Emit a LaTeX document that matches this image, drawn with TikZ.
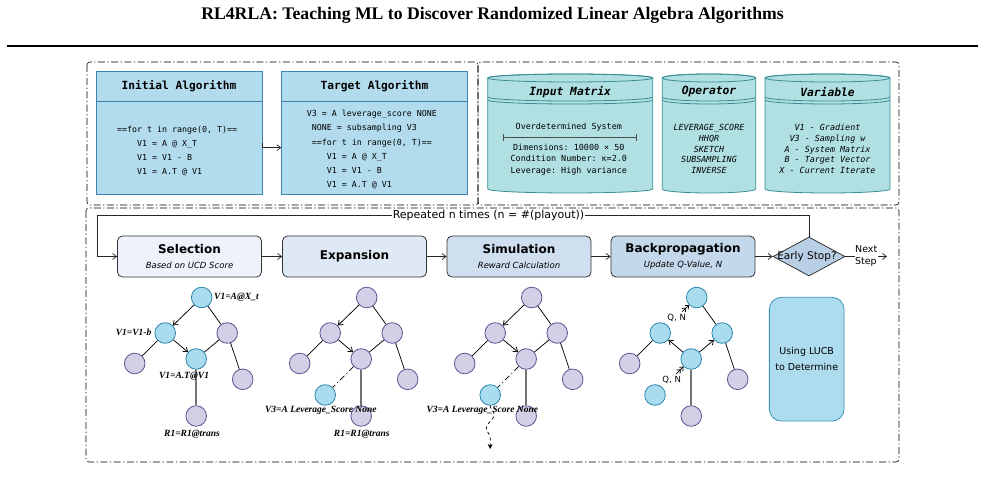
\documentclass[tikz,border=0pt]{standalone}
\usepackage{fontspec}
\setmainfont{Liberation Serif}
\setsansfont{DejaVu Sans}
\setmonofont{DejaVu Sans Mono}
\usetikzlibrary{arrows.meta, shapes.geometric, calc, decorations.pathmorphing}
\definecolor{algfill}{HTML}{B2DCEE}
\definecolor{algline}{HTML}{3D83B2}
\definecolor{cylfill}{HTML}{B1E0E3}
\definecolor{cylline}{HTML}{3A8D93}
\definecolor{selfill}{HTML}{EEF3FB}
\definecolor{expfill}{HTML}{DFE9F5}
\definecolor{simfill}{HTML}{CFDFF0}
\definecolor{bakfill}{HTML}{C4D8EC}
\definecolor{stopfill}{HTML}{B9CFE6}
\definecolor{stageline}{HTML}{333333}
\definecolor{lavfill}{HTML}{D3CFE6}
\definecolor{lavline}{HTML}{5B5590}
\definecolor{bluefill}{HTML}{A9DCEF}
\definecolor{blueline}{HTML}{2C86AD}
\definecolor{lucbfill}{HTML}{AEDCEF}
\definecolor{lucbline}{HTML}{3B93BB}
\newcommand{\tsz}[2]{\fontsize{#1}{#2}\selectfont}
\tikzset{
  frame/.style={line width=0.6pt, rounded corners=3pt,
    dash pattern=on 7pt off 2.5pt on 1.2pt off 2.5pt},
  algbox/.style={draw=algline, fill=algfill, line width=0.8pt, inner sep=0,
    minimum height=123.3pt},
  algtitle/.style={font=\ttfamily\bfseries\tsz{11.2}{13}},
  algcode/.style={font=\ttfamily\tsz{8.3}{14.2}, align=left, inner sep=0, anchor=west},
  cyltitle/.style={font=\ttfamily\bfseries\itshape\tsz{11.3}{13}},
  cylbody/.style={font=\ttfamily\tsz{8.4}{11.2}, align=center, inner sep=0},
  cyllist/.style={cylbody, font=\ttfamily\itshape\tsz{8.4}{10.85}},
  stage/.style={draw=stageline, line width=0.8pt, rounded corners=5pt,
    minimum width=144pt, minimum height=41pt, align=center, inner sep=0,
    font=\sffamily\tsz{8.5}{14.4}},
  flow/.style={->, line width=0.7pt, draw=black!85},
  lavnode/.style={circle, draw=lavline, fill=lavfill, line width=0.8pt,
    minimum size=20.6pt, inner sep=0},
  bluenode/.style={lavnode, draw=blueline, fill=bluefill},
  tedge/.style={line width=0.75pt},
  leaf/.style={line width=1.6pt, draw=black!55},
  tlab/.style={font=\bfseries\itshape\tsz{9.5}{11}, inner sep=0},
  qn/.style={font=\sffamily\tsz{8.5}{10}, inner sep=0},
  bp/.style={-{Straight Barb[length=3pt,width=5pt]Straight Barb[length=3pt,width=5pt]},
    line width=0.75pt},
}
% cylinder: left x, right x, name
\newcommand{\wcyl}[3]{%
  \pgfmathsetmacro{\cylrx}{(#2-#1)/2}
  \draw[draw=cylline, fill=cylfill, line width=0.8pt] (#1,78) -- (#1,189)
    arc[start angle=180, end angle=360, x radius=\cylrx pt, y radius=4pt] -- (#2,78)
    arc[start angle=0, end angle=180, x radius=\cylrx pt, y radius=4pt] -- cycle;
  \draw[draw=cylline, line width=0.8pt] ({(#1+#2)/2},78)
    ellipse [x radius=\cylrx pt, y radius=4pt];
  \foreach \cy in {97,100}{
    \draw[draw=cylline, line width=0.8pt] (#1,\cy)
      arc[start angle=180, end angle=360, x radius=\cylrx pt, y radius=4pt];}
  \coordinate (#3) at ({(#1+#2)/2},78);}
% search tree: root x, tag, styles of a, b, c, e
\newcommand{\mtree}[6]{%
  \node[#3] (#2a) at (#1,297.5) {};
  \node[#4] (#2b) at ({#1-36.5},333) {};
  \node[#5] (#2c) at ({#1+25.5},333) {};
  \node[lavnode] (#2d) at ({#1-67},363.5) {};
  \node[#6] (#2e) at ({#1-5.5},359) {};
  \node[lavnode] (#2f) at ({#1+41},379.3) {};
  \node[lavnode] (#2g) at ({#1-5.5},416) {};}

\begin{document}
\begin{tikzpicture}[x=1pt, y=-1pt, >={Straight Barb[length=4pt,width=6pt]}]
\useasboundingbox (0,0) rectangle (985,494);
% header
\node[font=\bfseries\tsz{17.7}{20}, anchor=base] (title) at (492.5,19.5)
  {RL4RLA: Teaching ML to Discover Randomized Linear Algebra Algorithms};
\draw[line width=2pt] (7,46.5) -- (978,46.5);
% frames
\draw[frame] (87,62) rectangle (478,205);
\draw[frame] (478,62) rectangle (899,205);
\draw[frame] (86,208) rectangle (899,462);
% algorithms
\node[algbox, minimum width=166pt] (init) at (179,132.7) {};
\node[algbox, minimum width=185.6pt] (target) at (374.5,132.7) {};
\draw[draw=algline, line width=0.8pt] ([yshift=-30.7pt]init.north west) -- ([yshift=-30.7pt]init.north east);
\draw[draw=algline, line width=0.8pt] ([yshift=-30.7pt]target.north west) -- ([yshift=-30.7pt]target.north east);
\node[algtitle] (inithead) at (179,86.3) {Initial Algorithm};
\node[algtitle] (targethead) at (374.5,86.3) {Target Algorithm};
\node[algcode] (initcode) at (117,150.8) {==for t in range(0, T)==\\
  \hphantom{xxxx}V1 = A @ X\_T\\\hphantom{xxxx}V1 = V1 - B\\\hphantom{xxxx}V1 = A.T @ V1};
\node[algcode] (targetcode) at (306.7,149.6) {V3 = A leverage\_score NONE\\
  \hphantom{x}NONE = subsampling V3\\\hphantom{x}==for t in range(0, T)==\\
  \hphantom{xxxx}V1 = A @ X\_T\\\hphantom{xxxx}V1 = V1 - B\\\hphantom{xxxx}V1 = A.T @ V1};
\draw[flow] ([yshift=-10pt]init.east) |- ([yshift=-15pt]target.west);
% cylinders
\wcyl{487.7}{652.7}{inmat}
\wcyl{662.3}{755.7}{oper}
\wcyl{765}{890}{vars}
\node[cyltitle] (inmathead) at (570.2,91.7) {Input Matrix};
\node[cyltitle] (operhead) at (709,91.7) {Operator};
\node[cyltitle] (varshead) at (827.5,91.7) {Variable};
\node[cylbody] (inmatsys) at (568.8,127.3) {Overdetermined System};
\coordinate (diml) at (503.3,137.3);
\coordinate (dimr) at (636,137.3);
\draw[{Bar[width=7pt]}-{Bar[width=7pt]}, line width=0.5pt, draw=black!70] (diml) -- (dimr);
\node[cylbody] (inmatdata) at (568.8,159.7)
  {Dimensions: 10000 × 50\\Condition Number: κ=2.0\\Leverage: High variance};
\node[cyllist] (operlist) at (709,149) {LEVERAGE\_SCORE\\HHQR\\SKETCH\\SUBSAMPLING\\INVERSE};
\node[cyllist] (varslist) at (827.5,149)
  {V1 - Gradient\\V3 - Sampling w\\A - System Matrix\\B - Target Vector\\X - Current Iterate};
% stages
\node[stage, fill=selfill] (sel) at (189.5,256.5)
  {{\tsz{12}{14.4}\bfseries Selection}\\{\itshape Based on UCD Score}};
\node[stage, fill=expfill] (exp) at (354.5,256.5) {{\tsz{12}{14.4}\bfseries Expansion}};
\node[stage, fill=simfill] (sim) at (519,256.5)
  {{\tsz{12}{14.4}\bfseries Simulation}\\{\itshape Reward Calculation}};
\node[stage, fill=bakfill] (bak) at (683,256.5)
  {{\tsz{12}{14.4}\bfseries Backpropagation}\\{\itshape Update Q-Value, N}};
\node[diamond, draw=stageline, fill=stopfill, line width=0.8pt, minimum width=72pt,
  minimum height=39pt, inner sep=0] (stop) at (809,256.5) {};
\node[font=\sffamily\tsz{10.5}{12}, inner sep=0] (stoptxt) at (807,257) {Early Stop?};
\draw[flow] (sel) -- (exp);
\draw[flow] (exp) -- (sim);
\draw[flow] (sim) -- (bak);
\draw[flow] (bak) -- (stop);
\coordinate (loopl) at (97,215);
\draw[flow] (stop.north) |- (loopl) |- (sel.west);
\node[font=\sffamily\tsz{11}{13}, fill=white, inner sep=1pt] (rep) at (488.5,215.5)
  {Repeated n times (n = \#(playout))};
\coordinate (nextend) at (887,256.5);
\draw[flow] (stop.east) -- (nextend) node[midway, fill=white, inner sep=0.5pt,
  align=left, font=\sffamily\tsz{9.5}{12}] (nxt) {Next\\Step};
% selection tree
\mtree{201.7}{t1}{bluenode}{bluenode}{lavnode}{bluenode}
\draw[tedge, ->] (t1a) -- (t1b);
\draw[tedge, ->] (t1b) -- (t1e);
\draw[tedge] (t1a) -- (t1c) (t1b) -- (t1d) (t1c) -- (t1e) (t1c) -- (t1f);
\draw[leaf] (t1e) -- (t1g);
\node[tlab, anchor=west] (t1la) at (214,297.5) {V1=A@X\_t};
\node[tlab, anchor=east] (t1lb) at (151.5,332.5) {V1=V1-b};
\node[tlab] (t1le) at (184,376) {V1=A.T@V1};
\node[tlab] (t1lg) at (192,434) {R1=R1@trans};
% expansion tree
\mtree{366.7}{t2}{lavnode}{lavnode}{lavnode}{lavnode}
\node[bluenode] (t2n) at (325.2,395) {};
\draw[tedge, ->] (t2a) -- (t2b);
\draw[tedge, ->] (t2b) -- (t2e);
\draw[tedge] (t2a) -- (t2c) (t2b) -- (t2d) (t2c) -- (t2e) (t2c) -- (t2f);
\draw[leaf] (t2e) -- (t2g);
\draw[tedge, dash pattern=on 6pt off 3pt on 1pt off 3pt] (t2e) -- (t2n);
\node[tlab] (t2ln) at (320.8,410) {V3=A Leverage\_Score None};
\node[tlab] (t2lg) at (361.7,434) {R1=R1@trans};
% simulation tree
\mtree{531.7}{t3}{lavnode}{lavnode}{lavnode}{lavnode}
\node[bluenode] (t3n) at (490.2,395) {};
\draw[tedge, ->] (t3a) -- (t3b);
\draw[tedge, ->] (t3b) -- (t3e);
\draw[tedge] (t3a) -- (t3c) (t3b) -- (t3d) (t3c) -- (t3e) (t3c) -- (t3f);
\draw[leaf] (t3e) -- (t3g);
\draw[tedge, dash pattern=on 6pt off 3pt on 1pt off 3pt] (t3e) -- (t3n);
\coordinate (t3end) at (490.2,449);
\draw[tedge, dashed, -{Stealth[length=5pt,width=5pt]}, decorate,
  decoration={snake, amplitude=4pt, segment length=28pt, post length=6pt}] (t3n) -- (t3end);
\node[tlab] (t3ln) at (482.3,410) {V3=A Leverage\_Score None};
% backpropagation tree
\mtree{696.7}{t4}{bluenode}{bluenode}{bluenode}{bluenode}
\node[bluenode] (t4n) at (655,395) {};
\draw[tedge] (t4a) -- (t4c) (t4b) -- (t4d) (t4c) -- (t4f);
\draw[leaf] (t4e) -- (t4g);
\draw[tedge, ->] (t4e) -- (t4b);
\draw[tedge, ->] (t4e) -- (t4c);
\draw[bp, shorten <=20pt] (t4b) -- (t4a);
\draw[bp, shorten <=19pt] (t4n) -- (t4e);
\node[qn] (t4q1) at (676.7,318.3) {Q, N};
\node[qn] (t4q2) at (671.7,380) {Q, N};
% LUCB
\node[draw=lucbline, fill=lucbfill, line width=0.8pt, rounded corners=12pt,
  minimum width=74.7pt, minimum height=123.7pt, align=center,
  font=\sffamily\tsz{9.5}{16}] (lucb) at (806.7,359.2) {Using LUCB\\to Determine};
\end{tikzpicture}
\end{document}
